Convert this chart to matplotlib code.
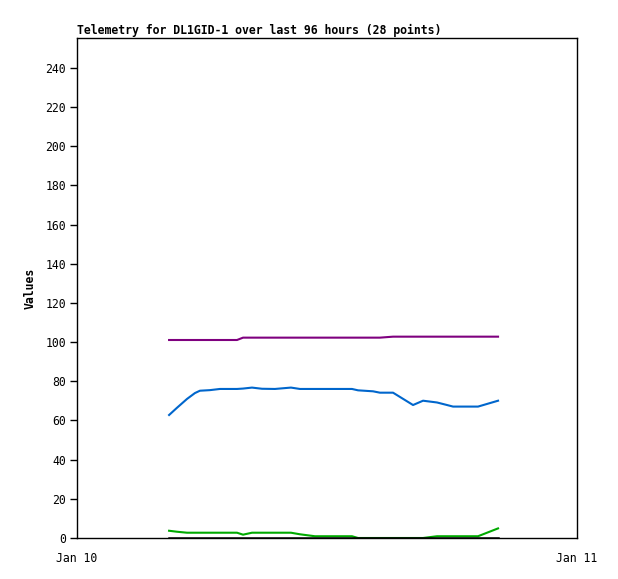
import matplotlib.pyplot as plt

# hours after Jan 10 00:00
hours = [4.42, 4.80, 5.28, 5.66, 5.90, 6.38, 6.86, 7.68, 7.97, 8.40, 8.88, 9.50, 10.27, 10.70,
         11.42, 12.14, 13.20, 13.49, 14.21, 14.54, 15.17, 16.13, 16.61, 17.28, 17.76, 18.05, 19.25, 20.21]

purple = [101.1, 101.1, 101.1, 101.1, 101.1, 101.1, 101.1, 101.1, 102.3, 102.3, 102.3, 102.3, 102.3, 102.3,
          102.3, 102.3, 102.3, 102.3, 102.3, 102.3, 102.8, 102.8, 102.8, 102.8, 102.8, 102.8, 102.8, 102.8]
blue = [62.8, 66.5, 71.0, 74.0, 75.2, 75.5, 76.1, 76.1, 76.3, 76.8, 76.2, 76.1, 76.8, 76.1,
        76.1, 76.1, 76.1, 75.4, 74.9, 74.2, 74.2, 67.9, 70.1, 69.2, 67.9, 67.1, 67.1, 70.1]
green = [3.7, 3.2, 2.7, 2.7, 2.7, 2.7, 2.7, 2.7, 1.7, 2.7, 2.7, 2.7, 2.7, 1.9,
         0.9, 0.9, 0.9, 0.0, 0.0, 0.0, 0.0, 0.0, 0.0, 0.9, 0.9, 0.9, 0.9, 4.9]
black = [0.0] * 28

plt.rcParams['font.family'] = 'DejaVu Sans Mono'

fig = plt.figure(figsize=(6.18, 5.79), dpi=100)
ax = fig.add_axes([77/618, 41/579, 500/618, 500/579])

ax.plot(hours, purple, color='#7f007f', linewidth=1.5)
ax.plot(hours, blue, color='#0066cc', linewidth=1.5)
ax.plot(hours, green, color='#00aa00', linewidth=1.5)
ax.plot(hours, black, color='black', linewidth=1.8)

ax.set_xlim(0, 24)
ax.set_ylim(0, 255.3)
ax.set_yticks(range(0, 241, 20))
ax.set_xticks([0, 24])
ax.set_xticklabels(['Jan 10', 'Jan 11'])
ax.tick_params(axis='y', length=5, width=1, labelsize=8.3, pad=3)
ax.tick_params(axis='x', length=0, labelsize=8.3, pad=10)
for s in ax.spines.values():
    s.set_linewidth(1)
ax.set_ylabel('Values', fontsize=8.3, fontweight='bold', labelpad=6)
ax.set_title('Telemetry for DL1GID-1 over last 96 hours (28 points)', loc='left',
             fontsize=8.3, fontweight='bold', pad=3)

fig.savefig('out.png', dpi=100)
